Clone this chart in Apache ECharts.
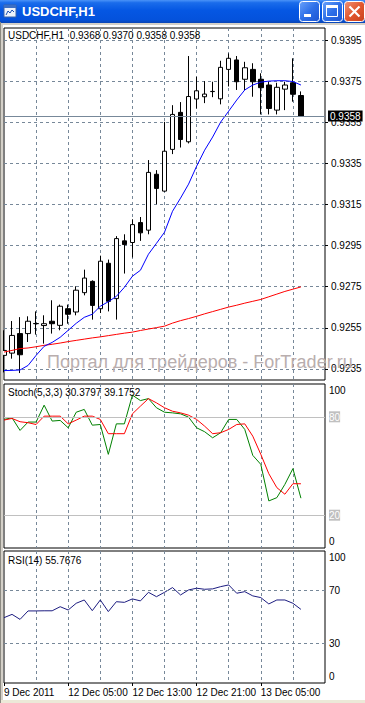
<!DOCTYPE html>
<html><head><meta charset="utf-8">
<script src="https://cdn.jsdelivr.net/npm/echarts@6/dist/echarts.min.js"></script>
<style>html,body{margin:0;padding:0;background:#fff;}#c{width:365px;height:703px;}</style>
</head><body><div id="c"></div>
<script>
// ---- DATA ----
const times = [
 '2011.12.09 21:00','2011.12.09 22:00','2011.12.09 23:00',
 '2011.12.12 00:00','2011.12.12 01:00','2011.12.12 02:00','2011.12.12 03:00','2011.12.12 04:00',
 '2011.12.12 05:00','2011.12.12 06:00','2011.12.12 07:00','2011.12.12 08:00','2011.12.12 09:00',
 '2011.12.12 10:00','2011.12.12 11:00','2011.12.12 12:00','2011.12.12 13:00','2011.12.12 14:00',
 '2011.12.12 15:00','2011.12.12 16:00','2011.12.12 17:00','2011.12.12 18:00','2011.12.12 19:00',
 '2011.12.12 20:00','2011.12.12 21:00','2011.12.12 22:00','2011.12.12 23:00',
 '2011.12.13 00:00','2011.12.13 01:00','2011.12.13 02:00','2011.12.13 03:00','2011.12.13 04:00',
 '2011.12.13 05:00','2011.12.13 06:00','2011.12.13 07:00','2011.12.13 08:00','2011.12.13 09:00',
 '2011.12.13 10:00','2011.12.13 11:00','2011.12.13 12:00','2011.12.13 13:00'
];
const opens  = [0.92416,0.92427,0.92522,0.92522,0.92571,0.92561,0.92582,0.92562,0.92643,0.92627,0.92721,0.92776,0.92643,0.92864,0.92692,0.92973,0.92965,0.93062,0.93025,0.93297,0.93215,0.93418,0.93598,0.93455,0.93663,0.93674,0.93699,0.93664,0.93807,0.93853,0.93759,0.93807,0.93759,0.93731,0.93609,0.93711,0.93742,0.9368];
const closes = [0.92440,0.92513,0.92419,0.92582,0.92570,0.92570,0.92570,0.92655,0.92616,0.92733,0.92792,0.92659,0.92874,0.92679,0.92984,0.92955,0.93052,0.93012,0.93306,0.93228,0.93409,0.93588,0.93466,0.93675,0.93703,0.93687,0.93700,0.93817,0.93861,0.93747,0.93815,0.93747,0.93718,0.93617,0.93720,0.93731,0.93686,0.9358];
const lows   = [0.92333,0.92400,0.92330,0.92481,0.92517,0.92473,0.92522,0.92538,0.92570,0.92611,0.92708,0.92590,0.92622,0.92630,0.92590,0.92814,0.92892,0.92973,0.93005,0.93151,0.93212,0.93395,0.93427,0.93447,0.93617,0.93643,0.93672,0.93637,0.93724,0.93707,0.93707,0.93674,0.93588,0.93588,0.93588,0.93609,0.93650,0.9358];
const highs  = [0.92538,0.92583,0.92602,0.92606,0.92630,0.92611,0.92684,0.92663,0.92663,0.92752,0.92833,0.92781,0.92901,0.92882,0.92996,0.93005,0.93078,0.93089,0.93366,0.93317,0.93552,0.93633,0.93648,0.93872,0.93771,0.93750,0.93747,0.93849,0.93885,0.93872,0.93844,0.93837,0.93788,0.93747,0.93742,0.93747,0.93861,0.9370];
const maFast = [0.92342,0.92343,0.92345,0.92367,0.92416,0.92460,0.92479,0.92504,0.92538,0.92572,0.92601,0.92616,0.92655,0.92677,0.92703,0.92747,0.92801,0.92830,0.92908,0.92961,0.93015,0.93117,0.93181,0.93249,0.93336,0.93414,0.93478,0.93551,0.93604,0.93658,0.93707,0.93731,0.93745,0.93750,0.93752,0.93752,0.93748,0.93731];
const maSlow = [0.92432,0.92440,0.92449,0.92452,0.92458,0.92465,0.92470,0.92476,0.92483,0.92489,0.92495,0.92501,0.92506,0.92512,0.92518,0.92524,0.92529,0.92537,0.92544,0.92551,0.92558,0.92573,0.92585,0.92595,0.92606,0.92618,0.92629,0.92640,0.92651,0.92660,0.92670,0.92679,0.92688,0.92701,0.92714,0.92727,0.92738,0.92749];
const stochK = [78.4,79.4,71.7,76.8,76.8,87.1,77.4,77.8,73.3,82.8,84.5,74.9,75.3,57.1,75.7,75.7,93.2,89.9,91.1,85.5,82.8,82.4,81.8,79.8,73.3,70.9,67.2,70.3,78.4,78.4,72.3,56.5,51.0,28.7,30.7,38.8,48.4,30.3797];
const stochD = [78.0,79.0,77.0,76.4,75.3,80.4,80.4,80.4,75.7,78.0,80.4,80.4,78.4,69.7,69.7,69.7,81.8,86.5,91.1,88.5,85.5,83.4,82.4,81.0,78.4,74.3,69.7,70.3,72.3,75.3,75.7,68.2,57.1,45.3,36.8,32.8,39.2,39.1752];
const rsi    = [49.5,52.0,48.2,54.6,54.6,54.7,54.7,57.8,55.3,60.4,62.9,54.8,62.9,54.1,61.6,61.1,63.7,62.2,68.7,65.4,68.7,72.3,66.7,70.5,71.8,71.0,71.3,73.0,74.3,68.0,69.2,66.0,64.7,59.9,62.9,62.9,60.4,55.7676];
const priceTicks = [0.9235,0.9255,0.9275,0.9295,0.9315,0.9335,0.9355,0.9375,0.9395];
const stochTicks = [0,20,80,100];
const stochLevels = [80,20];
const rsiTicks = [0,30,70,100];
const rsiLevels = [70,30];
const dateTickIndex = [0,8,16,24,32];
const dateTickLabels = ['9 Dec 2011','12 Dec 05:00','12 Dec 13:00','12 Dec 21:00','13 Dec 05:00'];
const headerMain = 'USDCHF,H1  0.9368 0.9370 0.9358 0.9358';
const headerStoch = 'Stoch(5,3,3) 30.3797 39.1752';
const headerRsi = 'RSI(14) 55.7676';
const windowTitle = 'USDCHF,H1';
const watermark = 'Портал для трейдеров - ForTrader.ru';

// ---- CHART ----
const FONT = '"Liberation Sans", Arial, sans-serif';
const GRIDC = '#778899';
const dash = {color: GRIDC, type: [3, 3], width: 1};
const vSplit = (i) => i > 0 && i < 40 && i % 4 === 0;
const isDateTick = (i) => dateTickIndex.indexOf(i) >= 0;
const G = echarts.graphic;

const chart = echarts.init(document.getElementById('c'), null, {renderer: 'svg', width: 365, height: 703});

const headerStyle = {fontSize: 10, fontWeight: 'normal', color: '#000', fontFamily: FONT};
const gridBase = {left: 4, width: 321, show: true, borderColor: '#000', borderWidth: 1};

const xAxes = [0, 1, 2].map(g => ({
  type: 'category', gridIndex: g, data: times, boundaryGap: false,
  axisLine: {show: false},
  axisTick: {show: g === 2, interval: isDateTick, length: 3, lineStyle: {color: '#000'}},
  axisLabel: {show: g === 2, interval: isDateTick, align: 'left', verticalAlign: 'top', margin: 4,
    fontSize: 10, color: '#000', fontFamily: FONT,
    formatter: (v, i) => dateTickLabels[dateTickIndex.indexOf(i)] || ''},
  splitLine: {show: true, interval: vSplit, lineStyle: dash}
}));

const edgeRich = {
  t: {padding: [12, 0, 0, 0], fontSize: 10, color: '#000', fontFamily: FONT},
  b: {padding: [0, 0, 14, 0], fontSize: 10, color: '#000', fontFamily: FONT},
  l: {backgroundColor: '#c0c0c0', color: '#fff', fontSize: 10, fontFamily: FONT, padding: [1, 0, 0, 0]},
  n: {fontSize: 10, color: '#000', fontFamily: FONT}
};

const option = {
  animation: false,
  backgroundColor: '#fff',
  textStyle: {fontFamily: FONT},
  title: [
    {text: headerMain, left: 8, top: 30, padding: 0, textStyle: headerStyle},
    {text: headerStoch, left: 8, top: 387, padding: 0, textStyle: headerStyle},
    {text: headerRsi, left: 8, top: 555, padding: 0, textStyle: headerStyle}
  ],
  grid: [
    Object.assign({top: 28, height: 352}, gridBase),
    Object.assign({top: 384, height: 164}, gridBase),
    Object.assign({top: 551, height: 132}, gridBase)
  ],
  xAxis: xAxes,
  yAxis: [
    {type: 'value', gridIndex: 0, position: 'right', min: 0.922962, max: 0.940084,
     axisLine: {show: false},
     axisTick: {show: true, customValues: priceTicks, length: 3, lineStyle: {color: '#000'}},
     axisLabel: {customValues: priceTicks, formatter: v => v.toFixed(4), margin: 6, fontSize: 10, color: '#000', fontFamily: FONT},
     splitLine: {show: true, lineStyle: dash}},
    {type: 'value', gridIndex: 1, position: 'right', min: 0, max: 100,
     axisLine: {show: false}, axisTick: {show: false}, splitLine: {show: false},
     axisLabel: {customValues: stochTicks, margin: 4, rich: edgeRich,
       formatter: v => v === 100 ? '{t|100}' : (v === 0 ? '{b|0}' : '{l|' + v + '}')}},
    {type: 'value', gridIndex: 2, position: 'right', min: 0, max: 100,
     axisLine: {show: false}, axisTick: {show: false}, splitLine: {show: false},
     axisLabel: {customValues: rsiTicks, margin: 4, rich: edgeRich,
       formatter: v => v === 100 ? '{t|100}' : (v === 0 ? '{b|0}' : '{n|' + v + '}')}}
  ],
  series: [
    {type: 'candlestick', xAxisIndex: 0, yAxisIndex: 0, barWidth: 5,
     data: opens.map((o, i) => [o, closes[i], lows[i], highs[i]]),
     itemStyle: {color: '#fff', color0: '#000', borderColor: '#000', borderColor0: '#000', borderWidth: 1}},
    {type: 'line', xAxisIndex: 0, yAxisIndex: 0, data: maSlow, symbol: 'none', clip: false,
     lineStyle: {color: '#ff0000', width: 1}},
    {type: 'line', xAxisIndex: 0, yAxisIndex: 0, data: maFast, symbol: 'none', clip: false,
     lineStyle: {color: '#0000ff', width: 1},
     markLine: {symbol: 'none', silent: true, animation: false, precision: 4,
       data: [{yAxis: closes[closes.length - 1]}],
       lineStyle: {color: GRIDC, type: 'solid', width: 1},
       label: {position: 'end', distance: 3, formatter: p => Number(p.value).toFixed(4),
         backgroundColor: '#000', color: '#fff', fontSize: 10, fontFamily: FONT, padding: [1, 2, 0, 2]}}},
    {type: 'line', xAxisIndex: 1, yAxisIndex: 1, data: stochK, symbol: 'none',
     lineStyle: {color: '#008000', width: 1},
     markLine: {symbol: 'none', silent: true, animation: false, label: {show: false},
       data: stochLevels.map(v => ({yAxis: v})),
       lineStyle: {color: '#c0c0c0', type: 'solid', width: 1}}},
    {type: 'line', xAxisIndex: 1, yAxisIndex: 1, data: stochD, symbol: 'none',
     lineStyle: {color: '#ff0000', width: 1}},
    {type: 'line', xAxisIndex: 2, yAxisIndex: 2, data: rsi, symbol: 'none',
     lineStyle: {color: '#1c1c80', width: 1},
     markLine: {symbol: 'none', silent: true, animation: false, label: {show: false},
       data: rsiLevels.map(v => ({yAxis: v})),
       lineStyle: dash}}
  ],
  graphic: [
    // window frame
    {type: 'rect', z: 100, shape: {x: 0, y: 22, width: 365, height: 3}, style: {fill: '#d4d0c8'}},
    {type: 'rect', z: 100, shape: {x: 0, y: 22, width: 3, height: 681}, style: {fill: '#d4d0c8'}},
    {type: 'rect', z: 101, shape: {x: 0, y: 22, width: 1, height: 681}, style: {fill: '#8c8a82'}},
    {type: 'rect', z: 100, shape: {x: 0, y: 700, width: 365, height: 3}, style: {fill: '#ece9d8'}},
    // title bar
    {type: 'rect', z: 100, shape: {x: 0, y: 0, width: 365, height: 23},
     style: {fill: new G.LinearGradient(0, 0, 0, 1, [
       {offset: 0, color: '#4a93f8'}, {offset: 0.12, color: '#1a6ceb'}, {offset: 0.45, color: '#0557e3'},
       {offset: 0.85, color: '#0452dc'}, {offset: 1, color: '#0a45b5'}])}},
    // icon
    {type: 'rect', z: 101, shape: {x: 4, y: 5, width: 12, height: 12}, style: {fill: '#eef3fb', stroke: '#3c64a8', lineWidth: 1}},
    {type: 'rect', z: 102, shape: {x: 4, y: 5, width: 12, height: 3}, style: {fill: '#3c6fc4'}},
    {type: 'polyline', z: 102, shape: {points: [[6, 15], [8, 11], [10, 13], [12, 10], [14, 12]]}, style: {stroke: '#1c4fb0', lineWidth: 1, fill: null}},
    {type: 'text', z: 102, x: 22, y: 5,
     style: {text: windowTitle, fill: '#fff', font: 'bold 13px "Liberation Sans", Arial, sans-serif',
       textShadowColor: '#0a2a80', textShadowOffsetX: 1, textShadowOffsetY: 1, textShadowBlur: 0}},
    // buttons
    {type: 'rect', z: 101, shape: {x: 299.5, y: 1.5, width: 20, height: 20, r: 3},
     style: {stroke: '#fff', lineWidth: 1, fill: new G.LinearGradient(0, 0, 1, 1, [
       {offset: 0, color: '#6aa2fb'}, {offset: 0.5, color: '#2d6fe8'}, {offset: 1, color: '#1c54d2'}])}},
    {type: 'rect', z: 102, shape: {x: 304, y: 14, width: 7, height: 3}, style: {fill: '#fff'}},
    {type: 'rect', z: 101, shape: {x: 322.5, y: 1.5, width: 20, height: 20, r: 3},
     style: {stroke: '#fff', lineWidth: 1, fill: new G.LinearGradient(0, 0, 1, 1, [
       {offset: 0, color: '#6aa2fb'}, {offset: 0.5, color: '#2d6fe8'}, {offset: 1, color: '#1c54d2'}])}},
    {type: 'rect', z: 102, shape: {x: 326.5, y: 5.5, width: 11, height: 11}, style: {fill: null, stroke: '#fff', lineWidth: 1}},
    {type: 'rect', z: 102, shape: {x: 326, y: 5, width: 12, height: 3}, style: {fill: '#fff'}},
    {type: 'rect', z: 101, shape: {x: 344.5, y: 1.5, width: 20, height: 20, r: 3},
     style: {stroke: '#fff', lineWidth: 1, fill: new G.LinearGradient(0, 0, 1, 1, [
       {offset: 0, color: '#f09377'}, {offset: 0.5, color: '#e2582f'}, {offset: 1, color: '#c8401c'}])}},
    {type: 'line', z: 102, shape: {x1: 349.5, y1: 6.5, x2: 359.5, y2: 16.5}, style: {stroke: '#fff', lineWidth: 2.2}},
    {type: 'line', z: 102, shape: {x1: 359.5, y1: 6.5, x2: 349.5, y2: 16.5}, style: {stroke: '#fff', lineWidth: 2.2}},
    // watermark
    {type: 'text', z: 50, x: 47, y: 353,
     style: {text: watermark, fill: '#b9aeae', font: '18px "Liberation Sans", Arial, sans-serif'}}
  ]
};
chart.setOption(option);
</script>
</body></html>
